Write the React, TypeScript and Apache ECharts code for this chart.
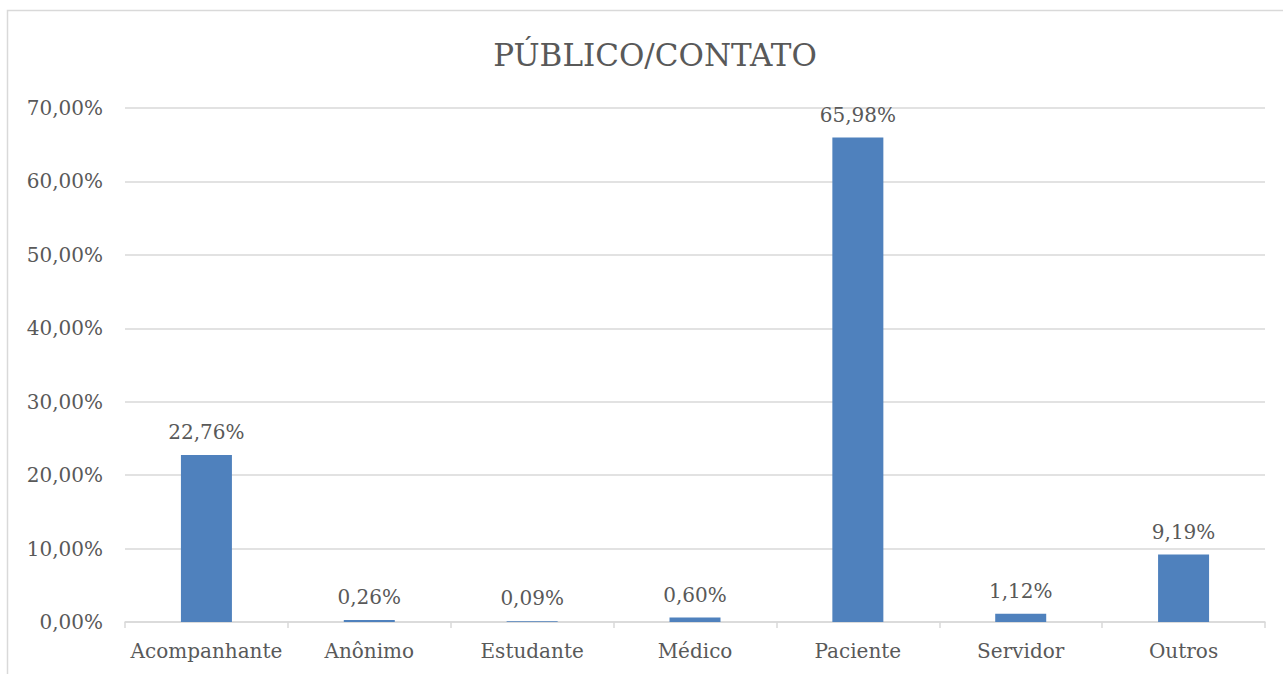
import React, { useEffect, useRef } from "react";
import * as echarts from "echarts";

const categories = ["Acompanhante", "Anônimo", "Estudante", "Médico", "Paciente", "Servidor", "Outros"];
const values = [22.76, 0.26, 0.09, 0.6, 65.98, 1.12, 9.19];
const titleText = "PÚBLICO/CONTATO";

const fmt = (v: number) => v.toFixed(2).replace(".", ",") + "%";
const FONT = "DejaVu Serif";
const TEXT = "#595959";

export default function App() {
  const ref = useRef<HTMLDivElement>(null);
  useEffect(() => {
    if (!ref.current) return;
    const chart = echarts.init(ref.current, undefined, { renderer: "svg" });
    chart.setOption({
      animation: false,
      backgroundColor: "#ffffff",
      title: {
        text: titleText,
        left: 650,
        textAlign: "center",
        top: 34,
        textStyle: { fontFamily: FONT, fontSize: 31, fontWeight: "normal", color: TEXT },
      },
      graphic: [
        {
          type: "rect",
          shape: { x: 7.5, y: 10.5, width: 1400, height: 800 },
          style: { fill: "none", stroke: "#D9D9D9", lineWidth: 1.5 },
          silent: true,
        },
      ],
      grid: { left: 125, right: 18, top: 108, bottom: 52, containLabel: false },
      xAxis: {
        type: "category",
        data: categories,
        axisLine: { lineStyle: { color: "#D9D9D9", width: 1.5 } },
        axisTick: { show: true, length: 6, lineStyle: { color: "#D9D9D9", width: 1.5 } },
        axisLabel: { interval: 0, fontFamily: FONT, fontSize: 20, color: TEXT, margin: 19 },
      },
      yAxis: {
        type: "value",
        min: 0,
        max: 70,
        interval: 10,
        axisLine: { show: false },
        axisTick: { show: false },
        splitLine: { lineStyle: { color: "#D9D9D9", width: 1.5 } },
        axisLabel: { fontFamily: FONT, fontSize: 20, color: TEXT, margin: 22, formatter: (v: number) => fmt(v) },
      },
      series: [
        {
          type: "bar",
          data: values,
          barWidth: 51,
          itemStyle: { color: "#4F81BD" },
          label: {
            show: true,
            position: "top",
            distance: 13,
            fontFamily: FONT,
            fontSize: 20,
            color: TEXT,
            formatter: (p: any) => fmt(p.value),
          },
        },
      ],
    });
    return () => chart.dispose();
  }, []);
  return <div ref={ref} style={{ position: "absolute", left: 0, top: 0, width: 1283, height: 674 }} />;
}
